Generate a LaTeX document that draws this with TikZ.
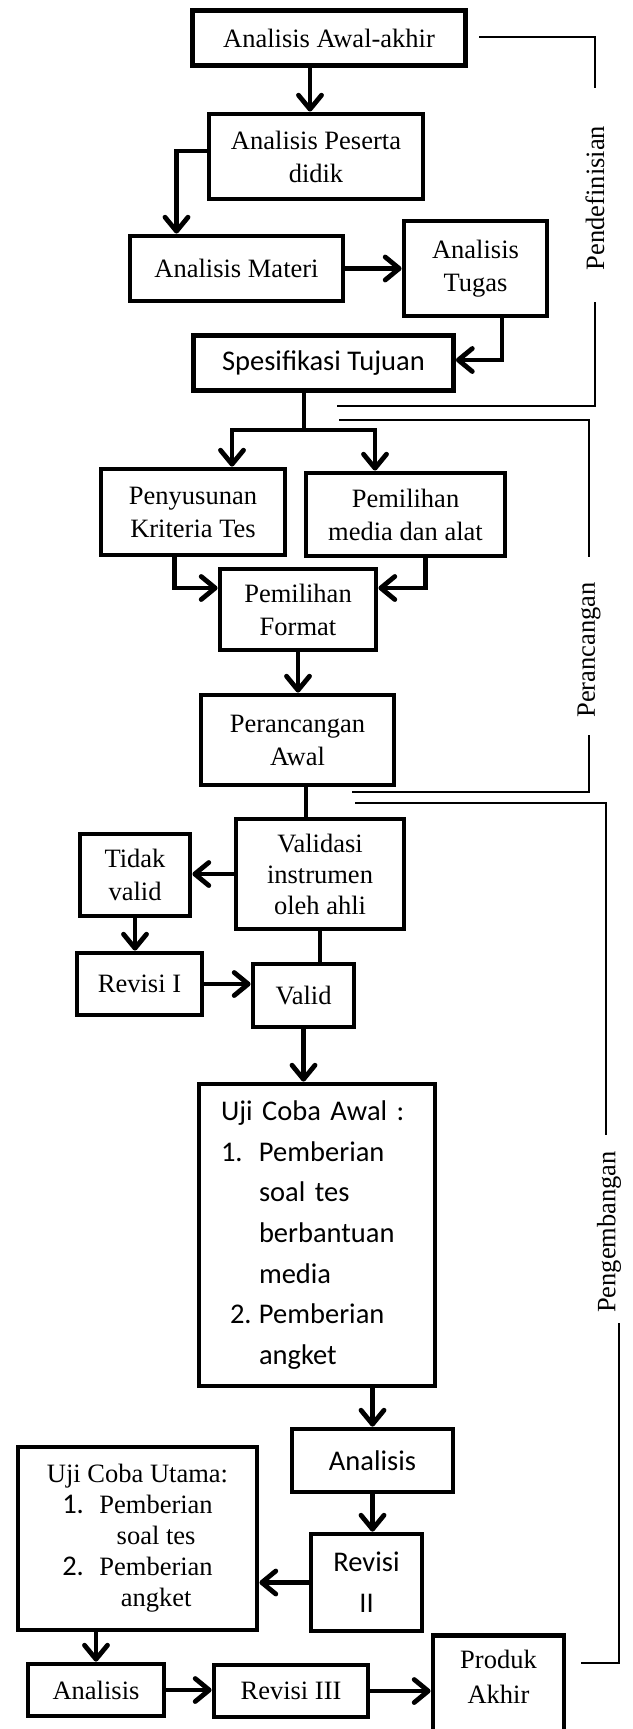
\documentclass[tikz,border=0pt]{standalone}
\usepackage{fontspec}
\setmainfont{Liberation Serif}
\newfontfamily\calibri{Carlito}
\usetikzlibrary{arrows.meta}

\begin{document}
\begin{tikzpicture}[x=1pt, y=-1pt,
  box/.style={draw, line width=4.8pt, align=center, inner sep=2pt, font=\fontsize{26.5}{33}\selectfont},
  cbox/.style={box, font=\calibri\fontsize{28.5}{41}\selectfont},
  conn/.style={line width=4.8pt},
  arr/.style={conn, -{Straight Barb[length=14pt,width=23pt,round]}},
  brk/.style={line width=1.4pt},
  lbl/.style={rotate=90, inner sep=0pt, font=\fontsize{26.5}{33}\selectfont}]
\useasboundingbox[fill=white] (0,0) rectangle (632,1729);

% Pendefinisian
\node[box, minimum width=273pt, minimum height=55pt] (awal) at (329,38) {Analisis Awal-akhir};
\node[box, minimum width=214pt, minimum height=85pt] (peserta) at (316,156.5) {Analisis Peserta\\didik};
\node[box, minimum width=213pt, minimum height=65pt] (materi) at (236.5,268.5) {Analisis Materi};
\node[box, minimum width=143pt, minimum height=95pt] (tugas) at (475.5,268.5) {Analisis\\Tugas};
\node[cbox, minimum width=260pt, minimum height=55pt] (tujuan) at (323.5,363) {Spesifikasi Tujuan};
\draw[arr] ([xshift=-6pt]peserta.north |- awal.south) -- ([xshift=-6pt]peserta.north);
\draw[arr] ([yshift=5.5pt]peserta.west) -| ([xshift=-60pt]materi.north);
\draw[arr] (materi) -- (tugas);
\draw[arr] ([xshift=26.5pt]tugas.south) |- ([yshift=3pt]tujuan.east);

% Perancangan
\node[box, minimum width=184pt, minimum height=86pt] (kriteria) at (193,512) {Penyusunan\\Kriteria Tes};
\node[box, minimum width=199pt, minimum height=83pt] (media) at (405.5,514.5) {Pemilihan\\media dan alat};
\node[box, minimum width=156pt, minimum height=81pt] (format) at (298,609.5) {Pemilihan\\Format};
\node[box, minimum width=193pt, minimum height=90pt] (rancang) at (297.5,740) {Perancangan\\Awal};
\coordinate (cab) at (304,430);
\draw[conn] ([xshift=-19.5pt]tujuan.south) -- (cab);
\draw[arr] (cab) -| ([xshift=39pt]kriteria.north);
\draw[arr] (cab) -| ([xshift=-30.5pt]media.north);
\draw[arr] ([xshift=-18.5pt]kriteria.south) |- ([yshift=21.5pt]format.west);
\draw[arr] ([xshift=20pt]media.south) |- ([yshift=21.5pt]format.east);
\draw[arr] (format.south) -- (format.south |- rancang.north);

% Pengembangan
\node[box, minimum width=168pt, minimum height=110pt, font=\fontsize{26.5}{31}\selectfont] (validasi) at (320,874) {Validasi\\instrumen\\oleh ahli};
\node[box, minimum width=110pt, minimum height=82pt] (tdkvalid) at (135,875) {Tidak\\valid};
\node[box, minimum width=125pt, minimum height=62pt] (revisi1) at (139.5,984) {Revisi I};
\node[box, minimum width=101pt, minimum height=63pt] (valid) at (303.5,995.5) {Valid};
\node[cbox, minimum height=302pt, text width=192pt, inner xsep=22pt, align=left, font=\calibri\fontsize{28.5}{40.7}\selectfont] (ujiawal) at (317,1235) {Uji Coba Awal :\\
\makebox[38pt][l]{1.}Pemberian\\
\hspace*{38pt}soal tes\\
\hspace*{38pt}berbantuan\\
\hspace*{38pt}media\\
\makebox[38pt][l]{\hspace*{9pt}2.}Pemberian\\
\hspace*{38pt}angket};
\node[cbox, minimum width=161pt, minimum height=63pt] (analisis1) at (372.5,1460.5) {Analisis};
\node[cbox, minimum width=111pt, minimum height=97pt] (revisi2) at (366.5,1582.5) {Revisi\\II};
\node[box, minimum width=239pt, minimum height=183pt, font=\fontsize{26.5}{31}\selectfont] (ujiutama) at (137.5,1538.5) {\begin{tabular}{@{}l@{\hspace{15.5pt}}c@{}}
\multicolumn{2}{c}{\makebox[0pt]{Uji Coba Utama:}}\\
{\calibri\fontsize{28.5}{31}\selectfont 1.} & Pemberian\\
 & soal tes\\
{\calibri\fontsize{28.5}{31}\selectfont 2.} & Pemberian\\
 & angket
\end{tabular}};
\node[box, minimum width=136pt, minimum height=52pt] (analisis2) at (96,1690) {Analisis};
\node[box, minimum width=154pt, minimum height=52pt] (revisi3) at (291,1691) {Revisi III};
\node[box, anchor=north, minimum width=131pt, inner ysep=15pt, text depth=40pt, font=\fontsize{26.5}{35}\selectfont] (produk) at (498.5,1633) {Produk\\Akhir};
\draw[conn] ([xshift=8.5pt]rancang.south) -- ([xshift=8.5pt]rancang.south |- validasi.north);
\draw[arr] (validasi.west) -- (tdkvalid.east |- validasi.west);
\draw[arr] (tdkvalid.south) -- (tdkvalid.south |- revisi1.north);
\draw[arr] (revisi1.east) -- (revisi1.east -| valid.west);
\draw[conn] (validasi.south) -- (validasi.south |- valid.north);
\draw[arr] (valid.south) -- (valid.south |- ujiawal.north);
\draw[arr] (ujiawal.south -| analisis1) -- (analisis1.north);
\draw[arr] (analisis1.south) -- (analisis1.south |- revisi2.north);
\draw[arr] (revisi2.west) -- (revisi2.west -| ujiutama.east);
\draw[arr] (ujiutama.south -| analisis2) -- (analisis2.north);
\draw[arr] (analisis2.east) -- (analisis2.east -| revisi3.west);
\draw[arr] (revisi3.east) -- (revisi3.east -| produk.west);

% tahap
\node[lbl] (ldef) at (595,198) {Pendefinisian};
\node[lbl] (lran) at (589,650) {Perancangan};
\node[lbl] (ldev) at (609,1232) {Pengembangan};
\coordinate (d0) at (479,37);
\coordinate (d1) at (337,406);
\coordinate (r0) at (339,420);
\coordinate (r1) at (352,792);
\coordinate (p0) at (355,803);
\coordinate (p1) at (581,1663);
\draw[brk] (d0) -| ([yshift=38pt]ldef.east);
\draw[brk] ([yshift=-32pt]ldef.west) |- (d1);
\draw[brk] (r0) -| ([yshift=25.5pt]lran.east);
\draw[brk] ([yshift=-17.5pt]lran.west) |- (r1);
\draw[brk] (p0) -| ([xshift=-3pt,yshift=16pt]ldev.east);
\draw[brk] ([xshift=10pt,yshift=-10pt]ldev.west) |- (p1);

\end{tikzpicture}
\end{document}
